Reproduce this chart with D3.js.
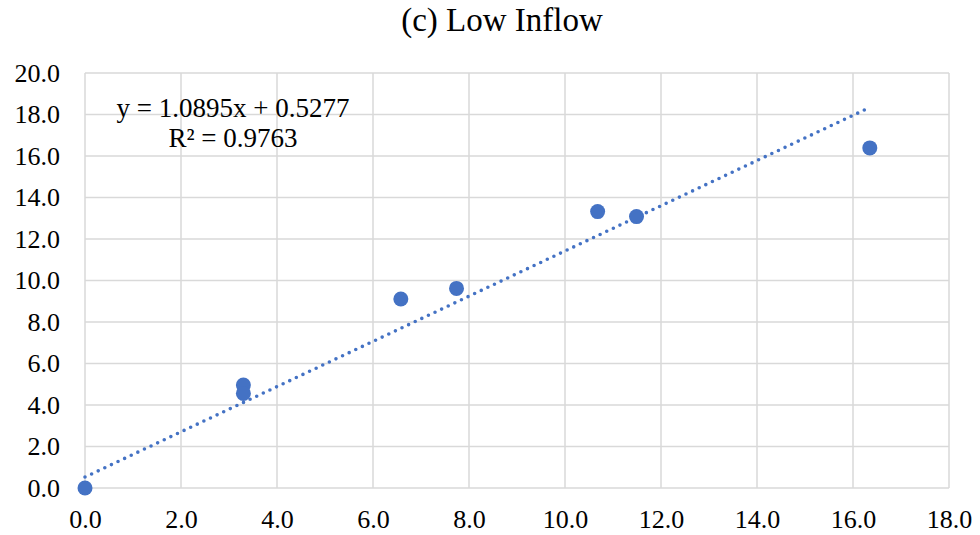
<!DOCTYPE html>
<html>
<head>
<meta charset="utf-8">
<script src="https://cdn.jsdelivr.net/npm/d3@7"></script>
<style>
  body { margin: 0; background: #fff; }
</style>
</head>
<body>
<div id="container"></div>
<script>
/* DATA */
const xValues = [0.0, 3.3, 3.3, 6.58, 7.74, 10.68, 11.49, 16.35];
const yValues = [0.0, 4.96, 4.56, 9.11, 9.62, 13.32, 13.08, 16.39];
const xTicks = [0, 2, 4, 6, 8, 10, 12, 14, 16, 18];
const yTicks = [0, 2, 4, 6, 8, 10, 12, 14, 16, 18, 20];
const slope = 1.0895, intercept = 0.5277;
const equationLines = ["y = 1.0895x + 0.5277", "R² = 0.9763"];
const title = "(c) Low Inflow";

const serif = "'Liberation Serif', Tinos, 'Times New Roman', Times, 'DejaVu Serif', serif";

/* LAYOUT */
const W = 980, H = 535;
const margin = {top: 73, right: 31, bottom: 47, left: 85};
const width = W - margin.left - margin.right,
  height = H - margin.top - margin.bottom;

const svg = d3.select("#container")
  .append("svg")
  .attr("width", W)
  .attr("height", H)
  .attr("font-family", serif);

const g = svg.append("g")
  .attr("transform", "translate(" + margin.left + "," + margin.top + ")");

const xScale = d3.scaleLinear().domain([0, 18]).range([0, width]);
const yScale = d3.scaleLinear().domain([0, 20]).range([height, 0]);

// gridlines
g.append("g")
  .selectAll("line")
  .data(xTicks)
  .join("line")
  .attr("x1", d => xScale(d)).attr("x2", d => xScale(d))
  .attr("y1", 0).attr("y2", height)
  .attr("stroke", "#d9d9d9")
  .attr("stroke-width", 1.5);

g.append("g")
  .selectAll("line")
  .data(yTicks)
  .join("line")
  .attr("x1", 0).attr("x2", width)
  .attr("y1", d => yScale(d)).attr("y2", d => yScale(d))
  .attr("stroke", "#d9d9d9")
  .attr("stroke-width", 1.5);

// axes (labels only)
const xAxis = g.append("g")
  .attr("transform", "translate(0," + height + ")")
  .call(d3.axisBottom(xScale).tickValues(xTicks).tickFormat(d3.format(".1f")).tickSize(0).tickPadding(22));
const yAxis = g.append("g")
  .call(d3.axisLeft(yScale).tickValues(yTicks).tickFormat(d3.format(".1f")).tickSize(0).tickPadding(25));
[xAxis, yAxis].forEach(a => {
  a.attr("font-family", serif).attr("font-size", 26);
  a.select(".domain").remove();
  a.selectAll("text").attr("fill", "#000");
});

// trendline
const xMax = d3.max(xValues);
g.append("line")
  .attr("x1", xScale(0)).attr("y1", yScale(intercept))
  .attr("x2", xScale(xMax)).attr("y2", yScale(slope * xMax + intercept))
  .attr("stroke", "#4472c4")
  .attr("stroke-width", 3.6)
  .attr("stroke-linecap", "round")
  .attr("stroke-dasharray", "0,7.3");

// points
g.selectAll("circle")
  .data(xValues.map((x, i) => ({x: x, y: yValues[i]})))
  .join("circle")
  .attr("cx", d => xScale(d.x))
  .attr("cy", d => yScale(d.y))
  .attr("r", 7.5)
  .attr("fill", "#4472c4");

// equation
svg.append("g")
  .selectAll("text")
  .data(equationLines)
  .join("text")
  .attr("x", 233)
  .attr("y", (d, i) => 117 + i * 30)
  .attr("text-anchor", "middle")
  .attr("font-size", 27)
  .text(d => d);

// title
svg.append("text")
  .attr("x", 502)
  .attr("y", 31)
  .attr("text-anchor", "middle")
  .attr("font-size", 33)
  .text(title);
</script>
</body>
</html>
